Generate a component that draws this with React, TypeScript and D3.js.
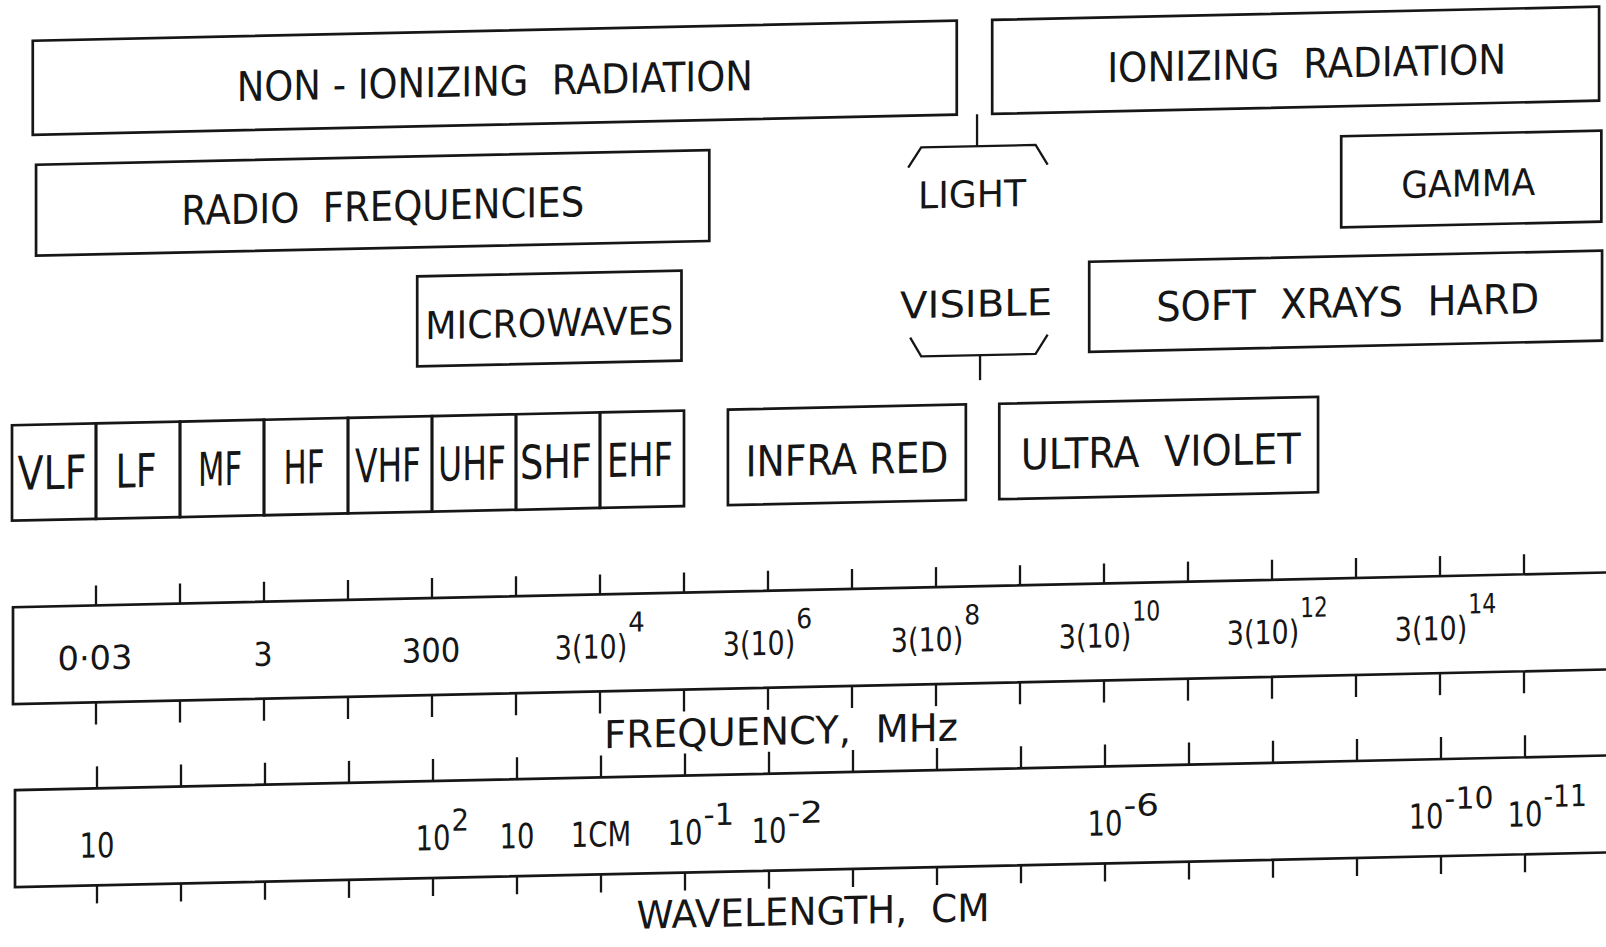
import React from "react";
import * as d3 from "d3";

// ---------------- data ----------------
// ITU radio bands, edges in MHz
const bandNames = ["VLF", "LF", "MF", "HF", "VHF", "UHF", "SHF", "EHF"];
const bandEdgesMHz = [0.003, 0.03, 0.3, 3, 30, 300, 3000, 30000, 300000];

// frequency axis (MHz), one tick per decade
const freqTicksMHz = [0.03, 0.3, 3, 30, 300, 3e3, 3e4, 3e5, 3e6, 3e7, 3e8, 3e9, 3e10, 3e11, 3e12, 3e13, 3e14, 3e15];
const freqLabelValues = [0.03, 3, 300, 3e4, 3e6, 3e8, 3e10, 3e12, 3e14];
const freqLabelBase = ["0·03", "3", "300", "3(10)", "3(10)", "3(10)", "3(10)", "3(10)", "3(10)"];
const freqLabelSup = ["", "", "", "4", "6", "8", "10", "12", "14"];

// wavelength axis (cm), one tick per decade
const waveTicksCm = [1e6, 1e5, 1e4, 1e3, 1e2, 10, 1, 0.1, 0.01, 1e-3, 1e-4, 1e-5, 1e-6, 1e-7, 1e-8, 1e-9, 1e-10, 1e-11];
const waveLabelValues = [1e6, 100, 10, 1, 0.1, 0.01, 1e-6, 1e-10, 1e-11];
const waveLabelBase = ["10", "10", "10", "1CM", "10", "10", "10", "10", "10"];
const waveLabelSup = ["", "2", "", "", "-1", "-2", "-6", "-10", "-11"];

// spectrum regions: label, frequency extent in MHz, row of the diagram
const regionNames = [
  "NON - IONIZING  RADIATION",
  "IONIZING  RADIATION",
  "RADIO  FREQUENCIES",
  "GAMMA",
  "MICROWAVES",
  "SOFT  XRAYS  HARD",
  "INFRA RED",
  "ULTRA  VIOLET",
];
const regionFromMHz = [0.0053, 1.4e9, 0.0058, 2.0e13, 200, 2.0e10, 1.0e6, 1.7e9];
const regionToMHz = [5.3e8, 2.35e16, 6.0e5, 2.5e16, 2.8e5, 2.55e16, 6.8e8, 1.06e13];
const regionRow = [0, 0, 1, 1, 2, 2, 3, 3];

// light bracket (MHz): outer ends, inner corners, centre stem
const lightOuterMHz = [1.4e8, 6.4e9];
const lightInnerMHz = [2.0e8, 4.6e9];
const lightCentreMHz = 9.5e8;

// ---------------- layout / style ----------------
const W = 1606;
const H = 947;
const SKEW = 0.0218; // the scanned sheet slopes slightly upward to the right
const CX = 803;
const CAPR = 0.729; // cap height / font size for DejaVu Sans
const INK = "#161616";
const FONT = "'DejaVu Sans', 'Liberation Sans', Arial, sans-serif";

const ROWS: [number, number][] = [
  [24, 118],
  [148, 239],
  [268, 358],
  [408, 503.5],
];

const regionStyle: Record<string, { w: number; cap: number; dx: number; dy: number }> = {
  "NON - IONIZING  RADIATION": { w: 516, cap: 30, dx: 0, dy: 3 },
  "IONIZING  RADIATION": { w: 399, cap: 30, dx: 11, dy: 3 },
  "RADIO  FREQUENCIES": { w: 403, cap: 30, dx: 10, dy: 3 },
  GAMMA: { w: 134, cap: 27, dx: -3, dy: 4 },
  MICROWAVES: { w: 248, cap: 28, dx: 0, dy: 4 },
  "SOFT  XRAYS  HARD": { w: 383, cap: 30, dx: 2, dy: 1 },
  "INFRA RED": { w: 203, cap: 31, dx: 0, dy: 4 },
  "ULTRA  VIOLET": { w: 280, cap: 31, dx: 2, dy: 3 },
};
const bandLabelW: Record<string, number> = { VLF: 69, LF: 41, MF: 44, HF: 41, VHF: 66, UHF: 68, SHF: 72, EHF: 66 };

const FREQ_BAND: [number, number] = [590, 687];
const WAVE_BAND: [number, number] = [773, 870];

// glyph advance widths (em) of the narrow lettering used for the axis numbers
const CW: Record<string, number> = {
  "0": 0.6, "1": 0.42, "2": 0.58, "3": 0.58, "4": 0.6, "6": 0.58, "8": 0.58,
  "(": 0.3, ")": 0.3, "·": 0.5, "-": 0.6, C: 0.62, M: 0.72,
};
const strW = (s: string, fs: number) => s.split("").reduce((a, c) => a + (CW[c] ?? 0.6), 0) * fs;

const freqX = d3.scaleLog().domain([0.003, 3e15]).range([12, 1524]);
const waveX = d3.scaleLog().domain([1e7, 1e-11]).range([12, 1524]);

type Lab = { bx: number; bw: number; sx: number; sw: number; base: string; sup: string };

function layoutLabels(
  scale: (v: number) => number,
  values: number[],
  bases: string[],
  sups: string[],
  o: { baseFs: number; supFs: number; supDx: number; plainDx: number; gap: number; minGap: number }
): Lab[] {
  const items = values.map((v, i) => {
    const bw = strW(bases[i], o.baseFs);
    const sw = sups[i] ? strW(sups[i], o.supFs) : 0;
    const c = scale(v) + (sups[i] ? o.supDx : o.plainDx);
    return { bx: c - bw / 2, bw, sx: 0, sw, base: bases[i], sup: sups[i] };
  });
  for (let i = items.length - 2; i >= 0; i--) {
    const it = items[i];
    const right = it.bx + it.bw + (it.sw ? o.gap + it.sw : 0);
    const limit = items[i + 1].bx - o.minGap;
    if (right > limit) it.bx -= right - limit;
  }
  items.forEach((it) => (it.sx = it.bx + it.bw + o.gap));
  return items;
}

function T(props: { x: number; y: number; cap: number; w?: number; anchor?: string; children: string }) {
  const fs = props.cap / CAPR;
  return (
    <text
      x={props.x}
      y={props.y}
      fontSize={fs}
      textAnchor={props.anchor ?? "middle"}
      textLength={props.w}
      lengthAdjust={props.w ? "spacingAndGlyphs" : undefined}
      fill={INK}
      style={{ whiteSpace: "pre" }}
    >
      {props.children}
    </text>
  );
}

export default function App() {
  const skewDeg = (Math.atan(SKEW) * 180) / Math.PI;

  const freqBaseCap = 24, freqSupCap = 20;
  const waveBaseCap = 25, waveSupCap = 22;
  const freqLabs = layoutLabels(freqX, freqLabelValues, freqLabelBase, freqLabelSup, {
    baseFs: freqBaseCap / CAPR, supFs: freqSupCap / CAPR, supDx: -9, plainDx: -1, gap: 1, minGap: 14,
  });
  const waveLabs = layoutLabels(waveX, waveLabelValues, waveLabelBase, waveLabelSup, {
    baseFs: waveBaseCap / CAPR, supFs: waveSupCap / CAPR, supDx: 1, plainDx: 1, gap: 1, minGap: 14,
  });

  const boxStroke = { fill: "none", stroke: INK, strokeWidth: 2.7 } as const;
  const tickStroke = { stroke: INK, strokeWidth: 2.3 } as const;

  const bracketTop = [
    [freqX(lightOuterMHz[0]), 170],
    [freqX(lightInnerMHz[0]), 150],
    [freqX(lightInnerMHz[1]), 150],
    [freqX(lightOuterMHz[1]), 170],
  ] as [number, number][];
  const bracketBot = [
    [freqX(lightOuterMHz[0]) + 2, 340],
    [freqX(lightInnerMHz[0]), 359],
    [freqX(lightInnerMHz[1]), 359],
    [freqX(lightOuterMHz[1]), 340],
  ] as [number, number][];
  const line = d3.line();
  const cLight = freqX(lightCentreMHz);

  return (
    <svg
      width={W}
      height={H}
      viewBox={`0 0 ${W} ${H}`}
      style={{ position: "fixed", left: 0, top: 0, background: "#fff" }}
      fontFamily={FONT}
    >
      <rect x={0} y={0} width={W} height={H} fill="#fff" />
      <g transform={`translate(0 ${SKEW * CX}) skewY(${-skewDeg})`}>
        {/* region boxes */}
        {regionNames.map((name, i) => {
          const [y0, y1] = ROWS[regionRow[i]];
          const x0 = freqX(regionFromMHz[i]);
          const x1 = freqX(regionToMHz[i]);
          const st = regionStyle[name];
          return (
            <g key={name}>
              <rect x={x0} y={y0} width={x1 - x0} height={y1 - y0} {...boxStroke} />
              <T x={(x0 + x1) / 2 + st.dx} y={(y0 + y1) / 2 + st.dy + st.cap / 2} cap={st.cap} w={st.w}>
                {name}
              </T>
            </g>
          );
        })}

        {/* radio bands */}
        {bandNames.map((b, i) => {
          const [y0, y1] = ROWS[3];
          const x0 = freqX(bandEdgesMHz[i]);
          const x1 = freqX(bandEdgesMHz[i + 1]);
          return (
            <g key={b}>
              <rect x={x0} y={y0} width={x1 - x0} height={y1 - y0} {...boxStroke} />
              <T x={(x0 + x1) / 2 - 2} y={(y0 + y1) / 2 + 17} cap={34} w={bandLabelW[b]}>
                {b}
              </T>
            </g>
          );
        })}

        {/* light brackets */}
        <line x1={cLight - 1} x2={cLight - 1} y1={118} y2={150} {...tickStroke} />
        <path d={line(bracketTop) ?? ""} fill="none" stroke={INK} strokeWidth={2.3} />
        <T x={cLight - 6} y={211} cap={27} w={108}>LIGHT</T>
        <T x={cLight - 2} y={320.5} cap={27} w={152}>VISIBLE</T>
        <path d={line(bracketBot) ?? ""} fill="none" stroke={INK} strokeWidth={2.3} />
        <line x1={cLight + 2} x2={cLight + 2} y1={359} y2={384} {...tickStroke} />

        {/* frequency scale */}
        <rect x={13} y={FREQ_BAND[0]} width={1700} height={FREQ_BAND[1] - FREQ_BAND[0]} {...boxStroke} />
        {freqTicksMHz.map((t) => (
          <g key={"ft" + t}>
            <line x1={freqX(t)} x2={freqX(t)} y1={FREQ_BAND[0]} y2={FREQ_BAND[0] - 20} {...tickStroke} />
            <line x1={freqX(t)} x2={freqX(t)} y1={FREQ_BAND[1]} y2={FREQ_BAND[1] + 22} {...tickStroke} />
          </g>
        ))}
        {freqLabs.map((l, i) => (
          <g key={"fl" + i}>
            <T x={l.bx} y={654} cap={freqBaseCap} w={l.bw} anchor="start">{l.base}</T>
            {l.sup ? (
              <T x={l.sx} y={628} cap={freqSupCap} w={l.sw} anchor="start">{l.sup}</T>
            ) : null}
          </g>
        ))}
        <T x={781} y={744} cap={28} w={354}>{"FREQUENCY,  MHz"}</T>

        {/* wavelength scale */}
        <rect x={15} y={WAVE_BAND[0]} width={1700} height={WAVE_BAND[1] - WAVE_BAND[0]} {...boxStroke} />
        {waveTicksCm.map((t) => (
          <g key={"wt" + t}>
            <line x1={waveX(t) + 1} x2={waveX(t) + 1} y1={WAVE_BAND[0]} y2={WAVE_BAND[0] - 22} {...tickStroke} />
            <line x1={waveX(t) + 1} x2={waveX(t) + 1} y1={WAVE_BAND[1]} y2={WAVE_BAND[1] + 18} {...tickStroke} />
          </g>
        ))}
        {waveLabs.map((l, i) => (
          <g key={"wl" + i}>
            <T x={l.bx} y={842} cap={waveBaseCap} w={l.bw} anchor="start">{l.base}</T>
            {l.sup ? (
              <T x={l.sx} y={823} cap={waveSupCap} w={l.sw} anchor="start">{l.sup}</T>
            ) : null}
          </g>
        ))}
        <T x={813} y={925} cap={28} w={353}>{"WAVELENGTH,  CM"}</T>
      </g>
    </svg>
  );
}
